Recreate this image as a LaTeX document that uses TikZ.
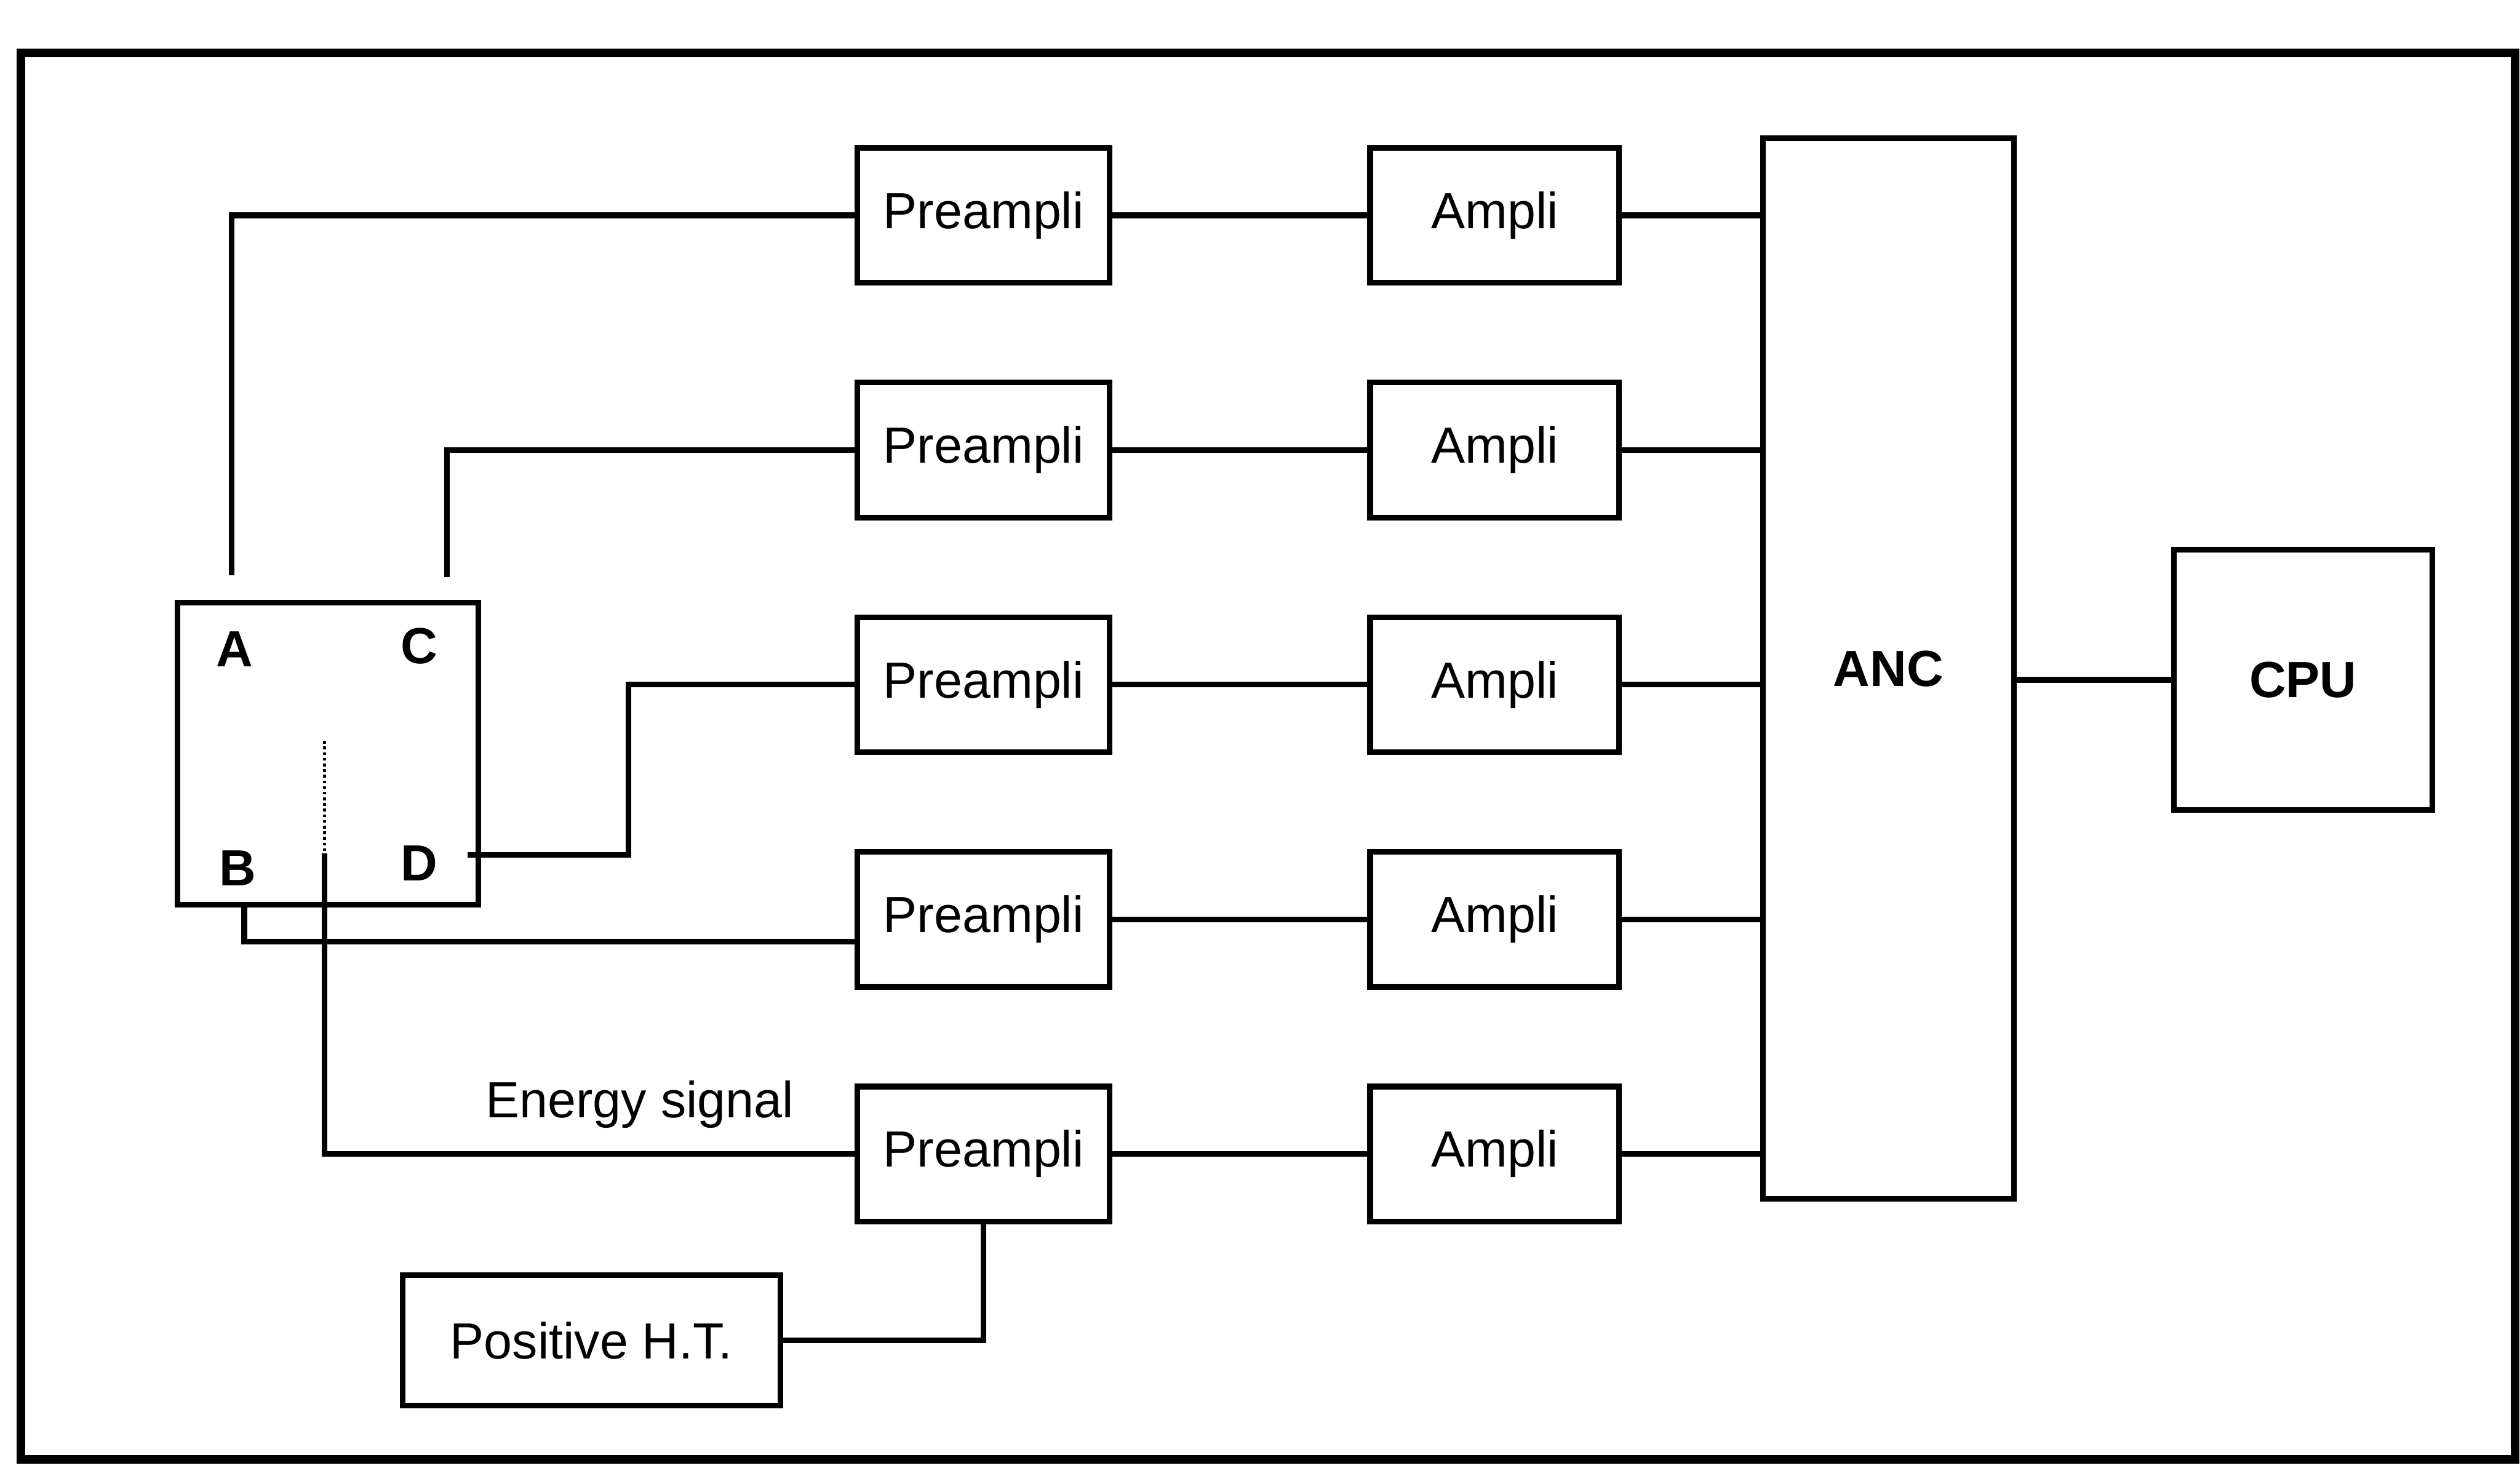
\documentclass[tikz,border=0pt]{standalone}
\usepackage{fontspec}
\setmainfont{Liberation Sans}
\usetikzlibrary{positioning}

\tikzset{
  blk/.style={draw,line width=2pt,inner sep=0pt,minimum width=31.4mm,minimum height=16.8mm,font=\fontsize{18}{20}\selectfont},
  wire/.style={line width=2pt},
  pin/.style={inner sep=0pt,font=\fontsize{18}{20}\selectfont\bfseries}
}

\begin{document}
\begin{tikzpicture}[x=0.2mm,y=-0.2mm]
\useasboundingbox (0,0) rectangle (1568,923);
\draw[line width=3pt] (13,33) rectangle (1565,908);
\node[blk,minimum width=37.4mm,minimum height=37.6mm] (det) at (204,469) {};
\node[pin] (pA) at (146,404) {A};
\node[pin] (pC) at (261,402) {C};
\node[pin] (pB) at (148,540) {B};
\node[pin] (pD) at (261,537) {D};
\node[blk,minimum width=31.2mm,minimum height=132mm,font=\fontsize{18}{20}\selectfont\bfseries] (anc) at (1175,416) {ANC};
\node[blk,minimum width=32.2mm,minimum height=32.4mm,font=\fontsize{18}{20}\selectfont\bfseries] (cpu) at (1433,423) {CPU};
\foreach \i/\y in {1/134,2/280,3/426,4/572,5/718} {
  \node[blk] (pre\i) at (612,\y) {Preampli};
  \node[blk,minimum width=31mm] (amp\i) at (930,\y) {Ampli};
  \draw[wire] (pre\i) -- (amp\i);
  \draw[wire] (amp\i.east) -- (amp\i.east -| anc.west);
}
\draw[wire] (cpu.west) -- (cpu.west -| anc.east);
\node[blk,minimum width=47mm,minimum height=16.2mm] (ht) at (368,834) {Positive H.T.};
\node[inner sep=0pt,font=\fontsize{18}{20}\selectfont] (esig) at (398,687) {Energy signal};
\coordinate (a0) at (144,358);
\coordinate (c0) at (278,359);
\coordinate (d0) at (291,532);
\coordinate (b0) at (152,563);
\coordinate (e0) at (202,461);
\coordinate (e1) at (202,531);
\draw[wire] (a0) |- (pre1.west);
\draw[wire] (c0) |- (pre2.west);
\draw[wire] (d0) -- ++(100,0) |- (pre3.west);
\draw[wire] (b0) |- ([yshift=-2.8mm]pre4.west);
\draw[densely dotted,line width=1pt] (e0) -- (e1);
\draw[wire] (e1) |- (pre5.west);
\draw[wire] (ht.east) -| (pre5.south);
\end{tikzpicture}
\end{document}
